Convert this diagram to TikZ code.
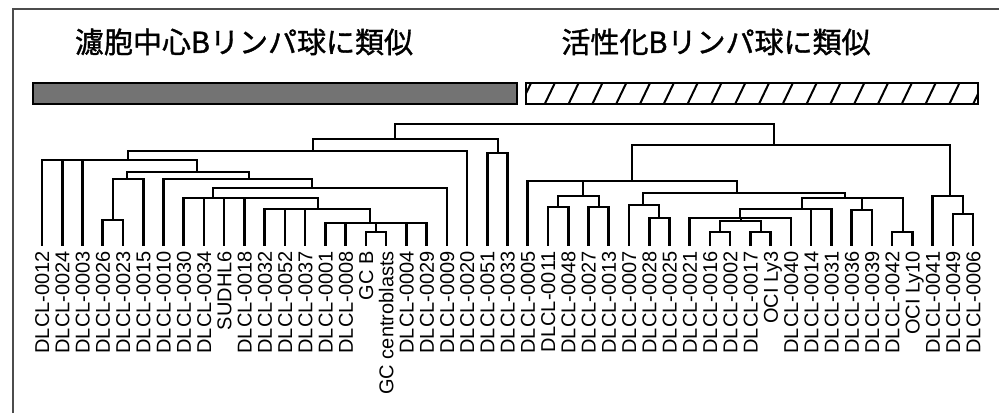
\documentclass[tikz,border=0pt]{standalone}
\usepackage{fontspec}
\setmainfont{Liberation Sans}
\newfontfamily\jpfont[FakeBold=1.2]{Noto Sans CJK JP}
\usetikzlibrary{positioning}

\tikzset{
    branch/.style={line width=2.6pt},
    leaflabel/.style={rotate=90, anchor=east, inner sep=0pt, text height=14.4pt, text depth=0pt, font=\fontsize{20}{24}\selectfont},
    grouptitle/.style={inner sep=0pt, font=\jpfont\fontsize{29}{34}\selectfont},
    frameline/.style={line width=1.2pt, black!70},
    barline/.style={line width=2pt}
}

\begin{document}
\begin{tikzpicture}[x=1pt,y=-1pt]
\useasboundingbox (0,0) rectangle (999,413);

\draw[frameline] (13,413) -- (13,9) -- (999,9);

\node[grouptitle] (gctitle) at (244,42) {濾胞中心Bリンパ球に類似};
\node[grouptitle] (abctitle) at (716,42) {活性化Bリンパ球に類似};

\draw[barline, fill=black!55] (33,83) rectangle (517,104);
\begin{scope}
    \clip (526,83) rectangle (978,104);
    \foreach \x in {0,...,19} {
        \draw[line width=2pt] ({520+23.8*\x},106) -- ++(12,-25);
    }
\end{scope}
\draw[barline] (526,83) rectangle (978,104);

\foreach \name/\lab [count=\i from 0] in {l12/DLCL-0012, l24/DLCL-0024, l03/DLCL-0003, l26/DLCL-0026, l23/DLCL-0023, l15/DLCL-0015, l10/DLCL-0010, l30/DLCL-0030, l34/DLCL-0034, sudhl/SUDHL6, l18/DLCL-0018, l32/DLCL-0032, l52/DLCL-0052, l37/DLCL-0037, l01/DLCL-0001, l08/DLCL-0008, gcb/GC B, gccb/GC centroblasts, l04/DLCL-0004, l29/DLCL-0029, l09/DLCL-0009, l20/DLCL-0020, l51/DLCL-0051, l33/DLCL-0033, l05/DLCL-0005, l11/DLCL-0011, l48/DLCL-0048, l27/DLCL-0027, l13/DLCL-0013, l07/DLCL-0007, l28/DLCL-0028, l25/DLCL-0025, l21/DLCL-0021, l16/DLCL-0016, l02/DLCL-0002, l17/DLCL-0017, ocithree/OCI Ly3, l40/DLCL-0040, l14/DLCL-0014, l31/DLCL-0031, l36/DLCL-0036, l39/DLCL-0039, l42/DLCL-0042, ociten/OCI Ly10, l41/DLCL-0041, l49/DLCL-0049, l06/DLCL-0006} {
    \coordinate (\name) at ({42+20.24*\i},246);
    \node[leaflabel] (t\name) at ({42+20.24*\i},251) {\lab};
}

\foreach \name/\x/\y in {nF/113/220, nE/127/179, nM/376/232, nL/370/223, nK/318/209, nA/213/198, nB/312/188, nC/249/179, nD/197/172, nG/128/160, nH/313/151, nJ/498/153, nI/395/139, nP1/558/207, nP2/599/207, nP/583/196, nR2/659/218, nR/643/205, nX1/720/232, nX2/761/232, nX/741/221, nW/740/218, nT/802/209, nV/862/210, nU/903/232, nS/845/198, nQ/737/193, nO/632/181, nN3/963/214, nN2/950/196, nN/774/145, root/585/124} {
    \coordinate (\name) at (\x,\y);
}

\foreach \p/\c in {nF/l26, nF/l23, nE/nF, nE/l15, nM/gcb, nM/gccb, nL/l01, nL/l08, nL/nM, nL/l04, nL/l29, nK/l32, nK/l52, nK/l37, nK/nL, nA/l30, nA/l34, nA/sudhl, nA/l18, nA/nK, nB/nA, nB/l09, nC/l10, nC/nB, nD/nE, nD/nC, nG/l12, nG/l24, nG/l03, nG/nD, nH/nG, nH/l20, nJ/l51, nJ/l33, nI/nH, nI/nJ, root/nI, root/nN, nP1/l11, nP1/l48, nP2/l27, nP2/l13, nP/nP1, nP/nP2, nR2/l28, nR2/l25, nR/l07, nR/nR2, nX1/l16, nX1/l02, nX2/l17, nX2/ocithree, nX/nX1, nX/nX2, nW/l21, nW/nX, nW/l40, nT/nW, nT/l14, nT/l31, nV/l36, nV/l39, nU/l42, nU/ociten, nS/nT, nS/nV, nS/nU, nQ/nR, nQ/nS, nO/l05, nO/nP, nO/nQ, nN3/l49, nN3/l06, nN2/l41, nN2/nN3, nN/nO, nN/nN2} {
    \draw[branch] (\p) -| (\c);
}
\end{tikzpicture}
\end{document}
